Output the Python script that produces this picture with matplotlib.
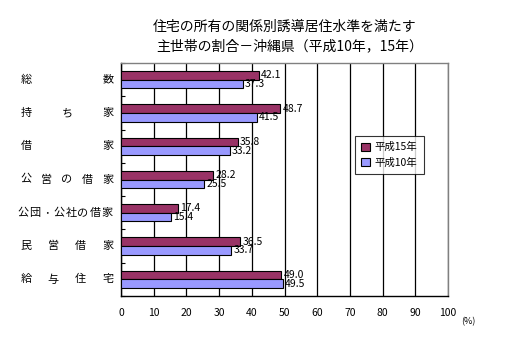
import matplotlib
matplotlib.use("Agg")
import matplotlib.pyplot as plt
import matplotlib.transforms as mtransforms
import numpy as np

plt.rcParams['font.family'] = ['Noto Sans CJK JP', 'DejaVu Sans']

categories = ["総数", "持ち家", "借家", "公営の借家", "公団･公社の借家", "民営借家", "給与住宅"]
h15 = [42.1, 48.7, 35.8, 28.2, 17.4, 36.5, 49.0]
h10 = [37.3, 41.5, 33.2, 25.5, 15.4, 33.7, 49.5]
series_names = ["平成15年", "平成10年"]
xticks = [0, 10, 20, 30, 40, 50, 60, 70, 80, 90, 100]

c15 = "#993366"
c10 = "#9999FF"

fig = plt.figure(figsize=(5.07, 3.53), dpi=100)
ax = fig.add_axes([121/507, 1-296/353, 327/507, 233/353])

n = len(categories)
y = np.arange(n)
bh = 0.26
b1 = ax.barh(y - bh/2, h15, height=bh, color=c15, edgecolor="black", linewidth=0.8, label=series_names[0], zorder=3)
b2 = ax.barh(y + bh/2, h10, height=bh, color=c10, edgecolor="black", linewidth=0.8, label=series_names[1], zorder=3)

for bars, vals in ((b1, h15), (b2, h10)):
    for rect, v in zip(bars, vals):
        ax.annotate(f"{v:.1f}", (v, rect.get_y() + rect.get_height()/2),
                    xytext=(1.5, 0), textcoords="offset points",
                    ha="left", va="center", fontsize=7.5, zorder=4)

ax.set_xlim(0, 100)
ax.set_ylim(n - 0.5, -0.5)
ax.set_xticks(xticks)
ax.set_xticklabels([str(t) for t in xticks], fontsize=7.5)
ax.tick_params(axis="x", length=0, pad=9)
ax.set_yticks(np.arange(n + 1) - 0.5)
ax.set_yticklabels([])
ax.tick_params(axis="y", direction="in", length=3, width=0.8)
ax.grid(axis="x", color="black", linewidth=0.9, zorder=0)
ax.set_axisbelow(True)
for side in ("left", "bottom"):
    ax.spines[side].set_color("black")
    ax.spines[side].set_linewidth(1.0)
for side in ("top", "right"):
    ax.spines[side].set_color("#808080")
    ax.spines[side].set_linewidth(1.0)

# distributed category labels
trans = mtransforms.blended_transform_factory(fig.transFigure, ax.transData)
x0, x1 = 26/507, 108/507
for i, lab in enumerate(categories):
    chars = list(lab)
    k = len(chars)
    if k >= 7:
        a, b = 23/507, 107/507
    else:
        a, b = x0, x1
    xs = np.linspace(a, b, k)
    for ch, xx in zip(chars, xs):
        fig.text(xx, i, ch, transform=trans, ha="center", va="center", fontsize=8)

leg = ax.legend(loc="upper left", bbox_to_anchor=(0.70, 0.71), fontsize=7.5,
                frameon=True, fancybox=False, edgecolor="black", handlelength=0.8,
                handleheight=0.8, handletextpad=0.5, borderpad=0.6, labelspacing=0.5)
leg.get_frame().set_linewidth(0.8)

fig.text(285/507, 1-27/353, "住宅の所有の関係別誘導居住水準を満たす", ha="center", va="center", fontsize=10)
fig.text(290/507, 1-46/353, "主世帯の割合－沖縄県（平成10年，15年）", ha="center", va="center", fontsize=10)
fig.text(468/507, 1-322/353, "(%)", ha="center", va="center", fontsize=6.5)

fig.savefig("out.png", dpi=100, facecolor="white")
